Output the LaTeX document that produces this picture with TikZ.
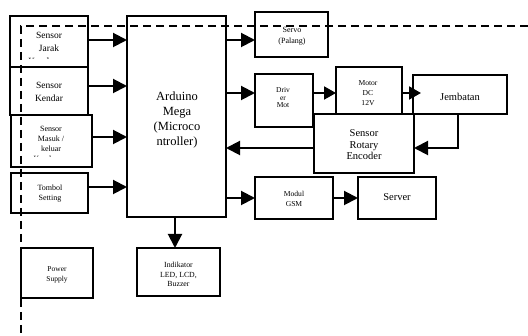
\documentclass[tikz,border=0pt]{standalone}
\usepackage{fontspec}
\setmainfont{Liberation Serif}
\usetikzlibrary{arrows.meta}
\begin{document}
\begin{tikzpicture}[x=1pt,y=-1pt,
  box/.style={draw,line width=1.8pt,inner sep=0pt,outer sep=0pt},
  arr/.style={line width=2pt,-{Triangle[length=14pt,width=14pt]}},
  sarr/.style={line width=2pt,-{Triangle[length=12pt,width=13pt]}},
  txt/.style={inner sep=0pt,align=center},
  dash line/.style={line width=1.7pt,dash pattern=on 8pt off 5pt}]
\useasboundingbox (0,0) rectangle (528,336);
% boxes
\node[box,minimum width=78pt,minimum height=51pt] (jarak) at (49,41.5) {};
\node[box,minimum width=78pt,minimum height=48pt] (kendar) at (49,91) {};
\node[box,minimum width=81pt,minimum height=52pt] (masuk) at (51.5,141) {};
\node[box,minimum width=77pt,minimum height=40pt] (tombol) at (49.5,193) {};
\node[box,minimum width=72pt,minimum height=50pt] (power) at (57,273) {};
\node[box,minimum width=99pt,minimum height=201pt] (arduino) at (176.5,116.5) {};
\node[box,minimum width=83pt,minimum height=48pt] (indikator) at (178.5,272) {};
\node[box,minimum width=73pt,minimum height=45pt] (servo) at (291.5,34.5) {};
\node[box,minimum width=58pt,minimum height=53pt] (driver) at (284,100.5) {};
\node[box,minimum width=66pt,minimum height=47pt] (motor) at (369,90.5) {};
\node[box,minimum width=94pt,minimum height=39pt] (jembatan) at (460,94.5) {};
\node[box,minimum width=100pt,minimum height=59pt] (encoder) at (364,143.5) {};
\node[box,minimum width=78pt,minimum height=42pt] (gsm) at (294,198) {};
\node[box,minimum width=78pt,minimum height=42pt] (server) at (397,198) {};
% texts
\begin{scope}
\clip (11,17) rectangle (87,58.5);
\node[txt,font=\fontsize{9.5}{13}\selectfont] (jarak-t) at (49,48) {Sensor\\Jarak\\Kendaraan};
\end{scope}
\node[txt,font=\fontsize{9.5}{13}\selectfont] (kendar-t) at (49,91.5) {Sensor\\Kendar};
\begin{scope}
\clip (12,116) rectangle (91,156.5);
\node[txt,font=\fontsize{8}{10}\selectfont] (masuk-t) at (51,144) {Sensor\\Masuk /\\keluar\\Kendaraan};
\end{scope}
\node[txt,font=\fontsize{8}{10}\selectfont] (tombol-t) at (50,194) {Tombol\\Setting};
\node[txt,font=\fontsize{7.5}{10}\selectfont] (power-t) at (57,275) {Power\\Supply};
\node[txt,font=\fontsize{12.5}{15}\selectfont] (arduino-t) at (177,120) {Arduino\\Mega\\(Microco\\ntroller)};
\node[txt,font=\fontsize{7.8}{9.5}\selectfont] (indikator-t) at (178.5,274.5) {Indikator\\LED, LCD,\\Buzzer};
\node[txt,font=\fontsize{8}{11}\selectfont] (servo-t) at (292,36) {Servo\\(Palang)};
\begin{scope}
\clip (256,75) rectangle (312,111);
\node[txt,font=\fontsize{7.5}{7.5}\selectfont] (driver-t) at (283,101.5) {Driv\\er\\Mot\\or};
\end{scope}
\node[txt,font=\fontsize{7.6}{10}\selectfont] (motor-t) at (368,93.5) {Motor\\DC\\12V};
\node[txt,font=\fontsize{10.5}{12}\selectfont] (jembatan-t) at (460,96.5) {Jembatan};
\node[txt,font=\fontsize{10.5}{11.5}\selectfont] (encoder-t) at (364,145) {Sensor\\Rotary\\Encoder};
\node[txt,font=\fontsize{7.6}{10}\selectfont] (gsm-t) at (294,198.5) {Modul\\GSM};
\node[txt,font=\fontsize{10.5}{12}\selectfont] (server-t) at (397,197.5) {Server};
% connectors
\draw[arr] (jarak.east |- 0,40) -- (arduino.west |- 0,40);
\draw[arr] (kendar.east |- 0,86) -- (arduino.west |- 0,86);
\draw[arr] (masuk.east |- 0,137) -- (arduino.west |- 0,137);
\draw[arr] (tombol.east |- 0,187) -- (arduino.west |- 0,187);
\draw[arr] (arduino.east |- 0,40) -- (servo.west |- 0,40);
\draw[arr] (arduino.east |- 0,93) -- (driver.west |- 0,93);
\draw[sarr] (driver.east |- 0,93) -- (motor.west |- 0,93);
\draw[sarr] (motor.east |- 0,93) -- ([xshift=8pt]jembatan.west |- 0,93);
\draw[arr] (jembatan.south -| 458,0) |- (encoder.east |- 0,148);
\draw[arr] (encoder.west |- 0,148) -- (arduino.east |- 0,148);
\draw[arr] (arduino.east |- 0,198) -- (gsm.west);
\draw[arr] (gsm.east) -- (server.west);
\draw[arr] (arduino.south -| 175,0) -- (indikator.north -| 175,0);
% dashed boundary
\coordinate (dcorner) at (21,26);
\coordinate (dright) at (528,26);
\coordinate (dbottom) at (21,336);
\draw[dash line] (dright) -- (dcorner) -- (dbottom);
\end{tikzpicture}
\end{document}
